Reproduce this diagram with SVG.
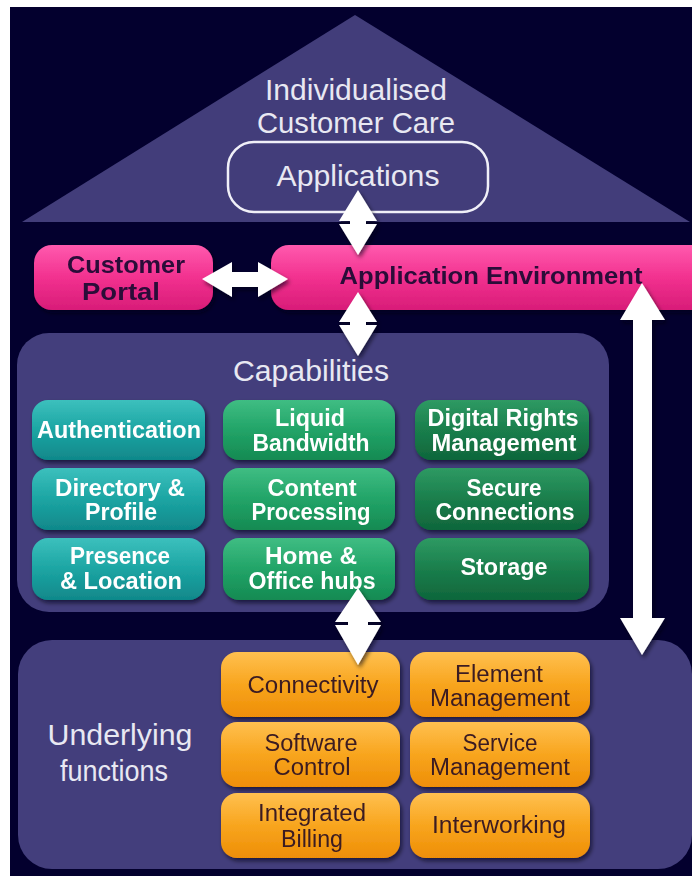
<svg xmlns="http://www.w3.org/2000/svg" width="692" height="876" viewBox="0 0 692 876">
<defs>
<style>
text{font-family:"Liberation Sans","DejaVu Sans",sans-serif;text-anchor:middle}
.hd{fill:#e8e8f2;font-size:29px}
.pk{fill:#2a0838;font-size:24px;font-weight:bold}
.cp{fill:#ffffff;font-size:23px;font-weight:bold}
.or{fill:#3a1a22;font-size:23px}
.arr{fill:#ffffff;filter:url(#sh)}
.notch{stroke:#08062a;stroke-width:2}
</style>
<linearGradient id="gPink" x1="0" y1="0" x2="0" y2="1"><stop offset="0" stop-color="#ff5aae"/><stop offset="0.5" stop-color="#f2318f"/><stop offset="1" stop-color="#d81c78"/></linearGradient>
<linearGradient id="gTeal" x1="0" y1="0" x2="0" y2="1"><stop offset="0" stop-color="#3cc0bd"/><stop offset="0.5" stop-color="#1ca5a3"/><stop offset="1" stop-color="#10888a"/></linearGradient>
<linearGradient id="gGreen" x1="0" y1="0" x2="0" y2="1"><stop offset="0" stop-color="#3fbd83"/><stop offset="0.5" stop-color="#22a468"/><stop offset="1" stop-color="#158a52"/></linearGradient>
<linearGradient id="gDGreen" x1="0" y1="0" x2="0" y2="1"><stop offset="0" stop-color="#2e9a63"/><stop offset="0.5" stop-color="#1a7e4c"/><stop offset="1" stop-color="#0f663b"/></linearGradient>
<linearGradient id="gOrange" x1="0" y1="0" x2="0" y2="1"><stop offset="0" stop-color="#ffc050"/><stop offset="0.5" stop-color="#f8a51e"/><stop offset="1" stop-color="#ee8e06"/></linearGradient>
<filter id="sh" x="-20%" y="-20%" width="150%" height="150%"><feDropShadow dx="2" dy="3" stdDeviation="2" flood-color="#000010" flood-opacity="0.6"/></filter>
</defs>
<rect x="0" y="0" width="692" height="876" fill="#ffffff"/>
<rect x="10" y="7" width="682" height="869" fill="#03002e"/>

<g id="house">
<polygon points="355,15 22,222 690,222" fill="#423d7a"/>
<text class="hd" x="356" y="100" textLength="182" lengthAdjust="spacingAndGlyphs">Individualised</text>
<text class="hd" x="356" y="133" textLength="198" lengthAdjust="spacingAndGlyphs">Customer Care</text>
</g>
<g id="applications">
<rect x="228" y="142" width="260" height="70" rx="26" fill="none" stroke="#f0f0f8" stroke-width="2.5"/>
<text class="hd" x="358" y="186" font-size="30" textLength="163" lengthAdjust="spacingAndGlyphs">Applications</text>
</g>

<g id="capabilities-panel">
<rect x="17" y="333" width="592" height="279" rx="32" fill="#433e7c"/>
<text class="hd" x="311" y="381" textLength="156" lengthAdjust="spacingAndGlyphs">Capabilities</text>
</g>
<g id="underlying-panel">
<rect x="18" y="640" width="674" height="229" rx="34" fill="#433e7c"/>
<text class="hd" x="120" y="745" textLength="145" lengthAdjust="spacingAndGlyphs">Underlying</text>
<text class="hd" x="114" y="781" textLength="108" lengthAdjust="spacingAndGlyphs">functions</text>
</g>

<g id="customer-portal" filter="url(#sh)">
<rect x="34" y="245" width="179" height="65" rx="18" fill="url(#gPink)"/>
<text class="pk" x="126" y="273" textLength="118" lengthAdjust="spacingAndGlyphs">Customer</text>
<text class="pk" x="121" y="300" textLength="78" lengthAdjust="spacingAndGlyphs">Portal</text>
</g>
<g id="application-environment" filter="url(#sh)">
<rect x="271" y="245" width="440" height="65" rx="18" fill="url(#gPink)"/>
<text class="pk" x="491" y="284" textLength="303" lengthAdjust="spacingAndGlyphs">Application Environment</text>
</g>

<g id="authentication" filter="url(#sh)"><rect x="32" y="400" width="173" height="60" rx="16" fill="url(#gTeal)"/>
<text class="cp" x="119" y="438" textLength="164" lengthAdjust="spacingAndGlyphs">Authentication</text></g>
<g id="liquid-bandwidth" filter="url(#sh)"><rect x="223" y="400" width="172" height="60" rx="16" fill="url(#gGreen)"/>
<text class="cp" x="310" y="426" textLength="70" lengthAdjust="spacingAndGlyphs">Liquid</text>
<text class="cp" x="311" y="451" textLength="117" lengthAdjust="spacingAndGlyphs">Bandwidth</text></g>
<g id="digital-rights" filter="url(#sh)"><rect x="415" y="400" width="174" height="60" rx="16" fill="url(#gDGreen)"/>
<text class="cp" x="503" y="426" textLength="151" lengthAdjust="spacingAndGlyphs">Digital Rights</text>
<text class="cp" x="504" y="451" textLength="145" lengthAdjust="spacingAndGlyphs">Management</text></g>

<g id="directory-profile" filter="url(#sh)"><rect x="32" y="468" width="173" height="62" rx="16" fill="url(#gTeal)"/>
<text class="cp" x="120" y="496" textLength="130" lengthAdjust="spacingAndGlyphs">Directory &amp;</text>
<text class="cp" x="121" y="520" textLength="72" lengthAdjust="spacingAndGlyphs">Profile</text></g>
<g id="content-processing" filter="url(#sh)"><rect x="223" y="468" width="172" height="62" rx="16" fill="url(#gGreen)"/>
<text class="cp" x="312" y="496" textLength="89" lengthAdjust="spacingAndGlyphs">Content</text>
<text class="cp" x="311" y="520" textLength="119" lengthAdjust="spacingAndGlyphs">Processing</text></g>
<g id="secure-connections" filter="url(#sh)"><rect x="415" y="468" width="174" height="62" rx="16" fill="url(#gDGreen)"/>
<text class="cp" x="504" y="496" textLength="75" lengthAdjust="spacingAndGlyphs">Secure</text>
<text class="cp" x="505" y="520" textLength="139" lengthAdjust="spacingAndGlyphs">Connections</text></g>

<g id="presence-location" filter="url(#sh)"><rect x="32" y="538" width="173" height="62" rx="16" fill="url(#gTeal)"/>
<text class="cp" x="120" y="564" textLength="100" lengthAdjust="spacingAndGlyphs">Presence</text>
<text class="cp" x="121" y="589" textLength="122" lengthAdjust="spacingAndGlyphs">&amp; Location</text></g>
<g id="home-office-hubs" filter="url(#sh)"><rect x="223" y="538" width="172" height="62" rx="16" fill="url(#gGreen)"/>
<text class="cp" x="311" y="564" textLength="92" lengthAdjust="spacingAndGlyphs">Home &amp;</text>
<text class="cp" x="312" y="589" textLength="127" lengthAdjust="spacingAndGlyphs">Office hubs</text></g>
<g id="storage" filter="url(#sh)"><rect x="415" y="538" width="174" height="62" rx="16" fill="url(#gDGreen)"/>
<text class="cp" x="504" y="575" textLength="87" lengthAdjust="spacingAndGlyphs">Storage</text></g>

<g id="connectivity" filter="url(#sh)"><rect x="221" y="652" width="179" height="65" rx="16" fill="url(#gOrange)"/>
<text class="or" x="313" y="693" textLength="131" lengthAdjust="spacingAndGlyphs">Connectivity</text></g>
<g id="element-management" filter="url(#sh)"><rect x="410" y="652" width="180" height="65" rx="16" fill="url(#gOrange)"/>
<text class="or" x="499" y="682" textLength="88" lengthAdjust="spacingAndGlyphs">Element</text>
<text class="or" x="500" y="706" textLength="140" lengthAdjust="spacingAndGlyphs">Management</text></g>
<g id="software-control" filter="url(#sh)"><rect x="221" y="722" width="179" height="65" rx="16" fill="url(#gOrange)"/>
<text class="or" x="311" y="751" textLength="93" lengthAdjust="spacingAndGlyphs">Software</text>
<text class="or" x="312" y="775" textLength="77" lengthAdjust="spacingAndGlyphs">Control</text></g>
<g id="service-management" filter="url(#sh)"><rect x="410" y="722" width="180" height="65" rx="16" fill="url(#gOrange)"/>
<text class="or" x="500" y="751" textLength="75" lengthAdjust="spacingAndGlyphs">Service</text>
<text class="or" x="500" y="775" textLength="140" lengthAdjust="spacingAndGlyphs">Management</text></g>
<g id="integrated-billing" filter="url(#sh)"><rect x="221" y="793" width="179" height="65" rx="16" fill="url(#gOrange)"/>
<text class="or" x="312" y="821" textLength="108" lengthAdjust="spacingAndGlyphs">Integrated</text>
<text class="or" x="312" y="847" textLength="62" lengthAdjust="spacingAndGlyphs">Billing</text></g>
<g id="interworking" filter="url(#sh)"><rect x="410" y="793" width="180" height="65" rx="16" fill="url(#gOrange)"/>
<text class="or" x="499" y="833" textLength="134" lengthAdjust="spacingAndGlyphs">Interworking</text></g>

<g id="connectors">
<polygon class="arr" points="358,190 377,221 366,221 366,224 377,224 358,255 339,224 350,224 350,221 339,221"/>
<line class="notch" x1="341" y1="222.5" x2="349" y2="222.5"/><line class="notch" x1="367" y1="222.5" x2="375" y2="222.5"/>
<polygon class="arr" points="358,292 377,322 366,322 366,325 377,325 358,356 339,325 350,325 350,322 339,322"/>
<line class="notch" x1="341" y1="323.5" x2="349" y2="323.5"/><line class="notch" x1="367" y1="323.5" x2="375" y2="323.5"/>
<polygon class="arr" points="358,588 381,622 368,622 368,625 381,625 358,665 335,625 348,625 348,622 335,622"/>
<line class="notch" x1="337" y1="623.5" x2="347" y2="623.5"/><line class="notch" x1="369" y1="623.5" x2="379" y2="623.5"/>
<polygon class="arr" points="202,279 232,262 232,272 258,272 258,262 288,279 258,297 258,287 232,287 232,297"/>
<polygon class="arr" points="642,283 665,320 652,320 652,618 665,618 642,655 620,618 633,618 633,320 620,320"/>
</g>
</svg>
